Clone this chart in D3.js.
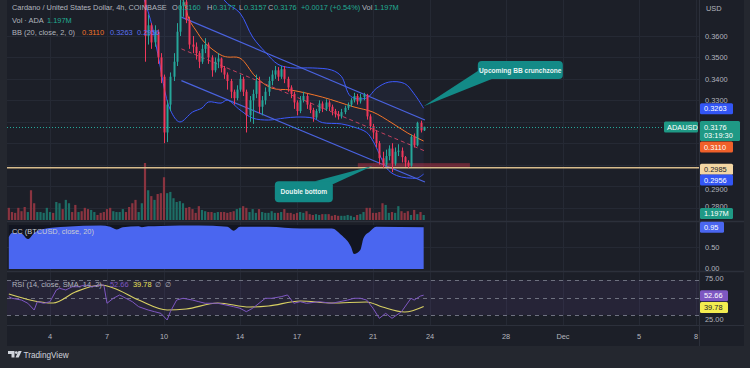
<!DOCTYPE html>
<html>
<head>
<meta charset="utf-8">
<script src="https://cdn.jsdelivr.net/npm/d3@7"></script>
<style>
  html, body { margin: 0; padding: 0; background: #24272f; }
  svg { display: block; font-family: "Liberation Sans", Arial, sans-serif; }
</style>
</head>
<body>
<svg id="chart" width="750" height="368"></svg>
<script>
// ADA/USD 4h (Coinbase), bars from 2022-11-01 20:00 UTC, open = previous close
const firstOpen = 0.4100;
const closes = [
  .4080,.4050,.4030,.4000,.3990,.3960,.3990,.3930,.3900,.3930,
  .3960,.3980,.4010,.4030,.4010,.4080,.4140,.4100,.4190,.4230,
  .4200,.4150,.4170,.4140,.4100,.4080,.4100,.4120,.4110,.4090,
  .4060,.4010,.3960,.3980,.4000,.4010,.4030,.4000,.3960,.3920,
  .3870,.3890,.3920,.3600,.3650,.3570,.3620,.3500,.3410,.3150,
  .3280,.3410,.3480,.3620,.3740,.3760,.3675,.3560,.3550,.3520,
  .3480,.3540,.3560,.3500,.3440,.3480,.3495,.3450,.3420,.3390,
  .3340,.3310,.3350,.3400,.3340,.3230,.3300,.3330,.3390,.3270,
  .3300,.3340,.3390,.3420,.3440,.3410,.3445,.3400,.3360,.3330,
  .3290,.3250,.3300,.3320,.3280,.3255,.3220,.3250,.3285,.3260,
  .3290,.3270,.3250,.3235,.3225,.3245,.3265,.3280,.3300,.3320,
  .3295,.3315,.3325,.3225,.3180,.3150,.3100,.3030,.3000,.3040,
  .3075,.3005,.3060,.3065,.3035,.3010,.2995,.3130,.3090,.3195,
  .3160,.3176
];
const highs = [
  .4130,.4100,.4080,.4060,.4040,.4020,.4020,.4030,.3950,.3960,
  .3990,.4010,.4040,.4060,.4060,.4110,.4180,.4170,.4230,.4270,
  .4260,.4230,.4200,.4190,.4160,.4130,.4130,.4150,.4150,.4140,
  .4120,.4090,.4030,.4010,.4030,.4040,.4060,.4050,.4020,.3980,
  .3940,.3920,.3950,.3950,.3700,.3660,.3650,.3630,.3520,.3420,
  .3300,.3430,.3520,.3660,.3800,.3830,.3780,.3690,.3600,.3570,
  .3530,.3560,.3590,.3570,.3510,.3500,.3520,.3500,.3460,.3430,
  .3400,.3350,.3370,.3420,.3410,.3350,.3320,.3350,.3420,.3410,
  .3320,.3360,.3410,.3440,.3460,.3455,.3460,.3460,.3410,.3370,
  .3340,.3300,.3320,.3340,.3330,.3290,.3265,.3260,.3300,.3295,
  .3305,.3300,.3280,.3260,.3250,.3260,.3275,.3290,.3310,.3335,
  .3330,.3330,.3335,.3330,.3235,.3190,.3160,.3110,.3060,.3070,
  .3090,.3100,.3080,.3095,.3080,.3040,.3020,.3140,.3145,.3200,
  .3205,.3177
];
const lows = [
  .4050,.4020,.4000,.3970,.3960,.3930,.3930,.3890,.3860,.3870,
  .3900,.3940,.3960,.3990,.3980,.3990,.4050,.4070,.4080,.4160,
  .4170,.4110,.4120,.4110,.4070,.4050,.4050,.4070,.4080,.4060,
  .4030,.3980,.3920,.3930,.3950,.3970,.3990,.3970,.3930,.3880,
  .3830,.3840,.3860,.3480,.3560,.3540,.3550,.3470,.3380,.3100,
  .3105,.3250,.3390,.3460,.3600,.3690,.3660,.3540,.3520,.3490,
  .3450,.3470,.3520,.3470,.3410,.3430,.3450,.3430,.3400,.3350,
  .3310,.3280,.3300,.3340,.3320,.3150,.3200,.3190,.3310,.3240,
  .3230,.3280,.3320,.3370,.3400,.3390,.3400,.3380,.3340,.3310,
  .3260,.3230,.3240,.3290,.3260,.3240,.3200,.3210,.3240,.3245,
  .3250,.3250,.3230,.3220,.3210,.3215,.3235,.3255,.3270,.3290,
  .3280,.3285,.3300,.3210,.3160,.3120,.3080,.3000,.2985,.2990,
  .3020,.2965,.2995,.3040,.3010,.2990,.2985,.2990,.3080,.3085,
  .3150,.3157
];
// volume, millions of ADA
const volumes = [
  2.9,1.9,1.7,2.9,2.1,3.1,1.9,7.1,4.0,1.9,
  1.9,1.7,2.9,1.9,1.7,4.3,4.0,2.6,4.8,4.0,
  1.9,3.6,1.9,2.1,2.9,2.6,2.4,1.9,1.2,1.7,
  1.9,2.6,2.9,2.1,1.9,1.9,2.6,1.9,3.1,4.0,
  4.8,1.9,4.0,13.6,7.1,5.7,4.8,6.2,6.4,10.2,
  6.4,6.7,5.2,4.3,4.5,4.0,2.9,3.1,2.6,1.7,
  3.3,2.4,2.1,1.9,1.9,1.7,1.9,1.9,1.9,1.7,
  1.9,2.1,2.6,2.9,3.3,2.9,1.9,2.6,1.7,2.6,
  1.9,1.7,1.7,2.1,1.7,1.7,1.9,2.6,1.7,1.7,
  1.4,1.7,1.9,1.7,2.1,1.4,1.2,1.4,1.2,1.4,
  1.4,1.4,1.0,1.2,1.0,1.0,1.0,1.2,1.0,0.7,
  1.2,1.4,1.9,2.9,2.9,1.7,1.7,1.9,4.0,3.6,
  1.7,1.9,1.7,3.3,2.1,1.7,2.1,1.2,2.4,1.4,
  1.9,1.197
];

// Bollinger Bands (20, 2) at bar indices
const bbUpperIdx = [30,40,48,56,62,66,68,73,77,81,85,89,96,102,105,108,113,116,120,125,128,131];
const bbUpper = [0.418,0.415,0.420,0.418,0.405,0.388,0.3768,0.3707,0.3595,0.3525,0.3468,0.3452,0.3451,0.3441,0.3412,0.3318,0.3311,0.3355,0.3385,0.3378,0.3330,0.3263];
const bbMidIdx = [40,48,52,55,57,59,62,67,69,73,78,83,89,99,109,115,121,126,131];
const bbMid = [0.405,0.395,0.383,0.3768,0.3675,0.3628,0.3567,0.3511,0.3502,0.3497,0.3409,0.3357,0.3348,0.3315,0.3269,0.3245,0.3194,0.3147,0.3110];
const bbLowerIdx = [30,40,42,45,47,51,54,58,61,63,67,69,73,77,82,87,91,96,99,105,109,113,115,117,119,121,124,127,129,131];
const bbLower = [0.385,0.386,0.380,0.366,0.352,0.3255,0.3199,0.3245,0.3264,0.3292,0.3287,0.3301,0.3255,0.3217,0.3208,0.3217,0.3222,0.3217,0.3196,0.3190,0.3175,0.3150,0.3110,0.3050,0.2990,0.2960,0.2942,0.2937,0.2937,0.2956];

// Correlation coefficient vs BTCUSD
const ccIdx = [0,1,4,6,8,11,18,29,32,34,36,41,42,44,48,60,69,71,73,82,92,102,105,108,109,111,112,114,116,131];
const ccVal = [0.73,0.82,0.80,0.68,0.82,0.91,0.96,0.99,0.96,0.90,0.95,0.97,0.95,0.97,0.98,0.99,0.96,0.87,0.96,0.96,0.92,0.92,0.77,0.51,0.34,0.43,0.70,0.85,0.96,0.95];

// RSI 14 and its SMA 14
const rsiIdx = [0,1,4,6,8,9,11,13,15,16,18,20,22,24,26,29,30,31,33,35,36,38,39,41,44,46,48,50,51,53,55,58,60,62,66,71,73,75,77,79,81,83,86,88,90,92,94,98,102,107,109,111,113,115,117,119,121,124,127,128,130,131];
const rsiVal = [50.9,49.1,47.1,43.4,35.7,45.2,43.4,45.2,58.6,60.5,58.6,62.3,62.3,64.3,62.3,64.3,64.3,43.4,49.1,52.9,50.9,47.1,45.2,39.5,35.7,33.8,31.9,24.3,33.8,47.1,49.1,47.1,45.2,43.4,43.4,39.5,37.7,33.8,37.7,43.4,49.1,49.1,50.9,52.9,43.4,45.2,43.4,45.2,43.4,47.1,49.1,49.1,47.1,37.7,26.2,31.9,26.2,33.8,49.1,47.1,51.7,52.66];
const smaIdx = [0,14,21,29,33,41,50,56,66,76,82,92,102,113,118,125,131];
const smaVal = [54.0,43.7,56.3,64.3,60.9,47.1,35.7,36.9,43.7,39.1,40.3,46.0,43.7,44.9,39.1,33.4,39.78];

// drawings
const channelIdx = [54.5, 131.4];
const channelUpper = [0.3688, 0.3208];
const channelLower = [0.3392, 0.2919];
const supportLevel = 0.2985;
const zoneIdx = [110.2, 145.6];
const zonePrice = [0.2989, 0.3007];

const priceTicks = [0.36, 0.35, 0.34, 0.33, 0.32, 0.31, 0.30, 0.29, 0.28];
const priceLabels = [0.36, 0.35, 0.34, 0.33, 0.29, 0.28];
const dateTicks = [[2022,10,4],[2022,10,7],[2022,10,10],[2022,10,14],[2022,10,17],[2022,10,21],[2022,10,24],[2022,10,28],[2022,11,1],[2022,11,5],[2022,11,8]];

//------------------------------------------------------------------------------
const svg = d3.select('#chart');
const DAY = 864e5, H4 = 4 * 36e5;
const t0 = Date.UTC(2022, 10, 1, 20);
const tAt = i => new Date(t0 + i * H4);

const bg = '#1c1f28', gridC = '#252934', txt = '#b2b5be';
const upC = '#26a69a', downC = '#f0385b';
const blueC = '#3d5afe', orangeC = '#f57428';

const nov4 = Date.UTC(2022, 10, 4);
const x = d3.scaleUtc()
    .domain([new Date(nov4 - 43 / 19 * DAY), new Date(nov4 + 649 / 19 * DAY)])
    .range([7, 699]);
const xi = i => x(tAt(i));

const y = d3.scaleLinear().domain([0.28, 0.36]).range([207.5, 36]);
const yVol = d3.scaleLinear().domain([0, 13.6]).range([220, 163]);
const yCC = d3.scaleLinear().domain([0, 1]).range([269, 225]);
const yRsi = d3.scaleLinear().domain([30, 70]).range([315, 280]);

const bars = closes.map((c, i) => ({
    i, t: tAt(i), o: i === 0 ? firstOpen : closes[i - 1],
    h: highs[i], l: lows[i], c, v: volumes[i]
}));

// backgrounds
svg.append('rect').attr('width', 750).attr('height', 368).attr('fill', '#24272f');
svg.append('rect').attr('x', 7).attr('y', 0).attr('width', 737).attr('height', 346).attr('fill', bg);

const defs = svg.append('defs');
const clip = (id, x0, y0, w, h) => defs.append('clipPath').attr('id', id)
    .append('rect').attr('x', x0).attr('y', y0).attr('width', w).attr('height', h);
clip('cMain', 7, 0, 692, 221);
clip('cCC', 7, 222, 692, 49);
clip('cRsi', 7, 272, 692, 53);
clip('cAxis', 7, 325, 692, 22);
clip('cRsiAxis', 700, 272, 50, 53);

// grid
const dates = dateTicks.map(d => new Date(Date.UTC(d[0], d[1], d[2])));
const grid = svg.append('g').attr('stroke', gridC).attr('stroke-width', 1);
dates.forEach(d => {
    const gx = Math.round(x(d)) + 0.5;
    if (gx < 699) grid.append('line').attr('x1', gx).attr('x2', gx).attr('y1', 0).attr('y2', 325);
});
priceTicks.forEach(p => {
    const gy = Math.round(y(p)) + 0.5;
    grid.append('line').attr('x1', 7).attr('x2', 699).attr('y1', gy).attr('y2', gy);
});
[0.5].forEach(v => grid.append('line').attr('x1', 7).attr('x2', 699)
    .attr('y1', Math.round(yCC(v)) + 0.5).attr('y2', Math.round(yCC(v)) + 0.5));

//------------------------------------------------------------------------------
// main pane
const gMain = svg.append('g').attr('clip-path', 'url(#cMain)');

gMain.selectAll('rect.vol').data(bars).join('rect')
    .attr('class', 'vol')
    .attr('x', d => xi(d.i) - 1.1)
    .attr('width', 2.2)
    .attr('y', d => yVol(d.v))
    .attr('height', d => 220 - yVol(d.v))
    .attr('fill', d => d.c >= d.o ? '#1d6e66' : '#8a3440');

const curve = d3.curveCatmullRom.alpha(0.5);
const pts = (idx, val) => idx.map((k, j) => [xi(k), y(val[j])]);
const line = d3.line().curve(curve);
const upPts = pts(bbUpperIdx, bbUpper), loPts = pts(bbLowerIdx, bbLower);
const fillPath = line(upPts) + 'L' + line(loPts.slice().reverse()).slice(1) + 'Z';
gMain.append('path').attr('d', fillPath).attr('fill', 'rgba(80,110,200,0.07)');
gMain.append('path').attr('d', line(upPts)).attr('fill', 'none').attr('stroke', blueC).attr('stroke-width', 1);
gMain.append('path').attr('d', line(loPts)).attr('fill', 'none').attr('stroke', blueC).attr('stroke-width', 1);
gMain.append('path').attr('d', line(pts(bbMidIdx, bbMid))).attr('fill', 'none').attr('stroke', orangeC).attr('stroke-width', 1);

// parallel channel
const chX = channelIdx.map(xi);
gMain.append('line').attr('x1', chX[0]).attr('x2', chX[1])
    .attr('y1', y(channelUpper[0])).attr('y2', y(channelUpper[1]))
    .attr('stroke', '#4a63e0').attr('stroke-width', 1.2);
gMain.append('line').attr('x1', chX[0]).attr('x2', chX[1])
    .attr('y1', y(channelLower[0])).attr('y2', y(channelLower[1]))
    .attr('stroke', '#4a63e0').attr('stroke-width', 1.2);
gMain.append('line').attr('x1', chX[0]).attr('x2', chX[1])
    .attr('y1', y((channelUpper[0] + channelLower[0]) / 2))
    .attr('y2', y((channelUpper[1] + channelLower[1]) / 2))
    .attr('stroke', '#c2405e').attr('stroke-width', 1).attr('stroke-dasharray', '4,3');

// support zone + level
gMain.append('rect')
    .attr('x', xi(zoneIdx[0])).attr('width', xi(zoneIdx[1]) - xi(zoneIdx[0]))
    .attr('y', y(zonePrice[1])).attr('height', y(zonePrice[0]) - y(zonePrice[1]))
    .attr('fill', 'rgba(200,50,70,0.45)');
gMain.append('line').attr('x1', 7).attr('x2', 699)
    .attr('y1', y(supportLevel)).attr('y2', y(supportLevel))
    .attr('stroke', '#d8bc8c').attr('stroke-width', 1.5);

// candles
const cg = gMain.selectAll('g.candle').data(bars).join('g').attr('class', 'candle');
cg.append('line')
    .attr('x1', d => Math.round(xi(d.i)) + 0.5).attr('x2', d => Math.round(xi(d.i)) + 0.5)
    .attr('y1', d => y(d.h)).attr('y2', d => y(d.l))
    .attr('stroke', d => d.c >= d.o ? upC : downC);
cg.append('rect')
    .attr('x', d => Math.round(xi(d.i)) - 0.5).attr('width', 2)
    .attr('y', d => y(Math.max(d.o, d.c)))
    .attr('height', d => Math.max(1, Math.abs(y(d.o) - y(d.c))))
    .attr('fill', d => d.c >= d.o ? upC : downC);

// last price dotted line
const last = bars[bars.length - 1];
gMain.append('line').attr('x1', 7).attr('x2', 699)
    .attr('y1', Math.round(y(last.c)) + 0.5).attr('y2', Math.round(y(last.c)) + 0.5)
    .attr('stroke', upC).attr('stroke-width', 1).attr('stroke-dasharray', '1,2');

// callouts
const callout = (g, bx, by, w, h, base, tip, label) => {
    g.append('path')
        .attr('d', `M${bx + base[0][0]},${by + base[0][1]}L${tip[0]},${tip[1]}L${bx + base[1][0]},${by + base[1][1]}Z`)
        .attr('fill', '#138a87');
    g.append('rect').attr('x', bx).attr('y', by).attr('width', w).attr('height', h)
        .attr('rx', 4).attr('fill', '#138a87');
    g.append('text').attr('x', bx + w / 2).attr('y', by + h / 2 + 2.5)
        .attr('text-anchor', 'middle').attr('font-size', 6.6).attr('font-weight', 'bold')
        .attr('fill', '#e8f4f3').text(label);
};
callout(svg.append('g'), xi(148.1), y(0.3483), 85, 18, [[0, 10], [14, 18]],
    [xi(131), y(0.3272)], 'Upcoming BB crunchzone');
callout(svg.append('g'), xi(84), y(0.2923), 58, 21, [[40, 0], [58, 3]],
    [xi(115), y(0.2995)], 'Double bottom');

//------------------------------------------------------------------------------
// CC pane
const gCC = svg.append('g').attr('clip-path', 'url(#cCC)');
const ccPts = ccIdx.map((k, j) => [xi(k), ccVal[j]]);
gCC.append('path')
    .attr('d', d3.area().curve(d3.curveMonotoneX).x(d => d[0]).y0(yCC(1)).y1(d => yCC(d[1]))(ccPts))
    .attr('fill', '#121520');
gCC.append('path')
    .attr('d', d3.area().curve(d3.curveMonotoneX).x(d => d[0]).y0(yCC(0)).y1(d => yCC(d[1]))(ccPts))
    .attr('fill', '#4a66f0');

// RSI pane
const gR = svg.append('g').attr('clip-path', 'url(#cRsi)');
gR.append('rect').attr('x', 7).attr('width', 692).attr('y', yRsi(70)).attr('height', yRsi(30) - yRsi(70))
    .attr('fill', 'rgba(126,87,194,0.10)');
[70, 50, 30].forEach(v => gR.append('line').attr('x1', 7).attr('x2', 699)
    .attr('y1', Math.round(yRsi(v)) + 0.5).attr('y2', Math.round(yRsi(v)) + 0.5)
    .attr('stroke', '#6e7180').attr('stroke-dasharray', '4,4'));
gR.append('path')
    .attr('d', d3.line().x((k) => xi(k)).y((k, j) => yRsi(smaVal[j])).curve(d3.curveMonotoneX)(smaIdx))
    .attr('fill', 'none').attr('stroke', '#d8d063').attr('stroke-width', 1.1);
gR.append('path')
    .attr('d', d3.line().x((k) => xi(k)).y((k, j) => yRsi(rsiVal[j]))(rsiIdx))
    .attr('fill', 'none').attr('stroke', '#7e57c2').attr('stroke-width', 1);

// pane separators
const sep = svg.append('g').attr('stroke', '#2c303b').attr('stroke-width', 1.5);
[221.5, 271.5].forEach(v => sep.append('line').attr('x1', 7).attr('x2', 744).attr('y1', v).attr('y2', v));
svg.append('line').attr('x1', 7).attr('x2', 744).attr('y1', 325.5).attr('y2', 325.5)
    .attr('stroke', '#2c303b');
svg.append('line').attr('x1', 699.5).attr('x2', 699.5).attr('y1', 0).attr('y2', 346)
    .attr('stroke', '#2c303b');

//------------------------------------------------------------------------------
// text sizing: fit the title width and reuse that size
const FS = (() => {
    const probe = svg.append('text').attr('font-size', 10).text('Cardano / United States Dollar, 4h, COINBASE');
    const w = probe.node().getComputedTextLength();
    probe.remove();
    return 10 * 155 / w;
})();

const put = (xx, yy, s, c, g) => (g || svg).append('text').attr('x', xx).attr('y', yy)
    .attr('font-size', FS).attr('fill', c).text(s);

// price axis
priceLabels.forEach(p => put(705, y(p) + (p === 0.29 ? 6 : p === 0.28 ? 1 : 2.7), d3.format('.4f')(p), txt));
put(706, 11, 'USD', txt);
put(705, yCC(0.5) + 2.7, '0.50', txt);
put(705, yCC(0) + 1.5, '0.00', txt);
put(705, yRsi(75) + 5.5, '75.00', txt, svg.append('g').attr('clip-path', 'url(#cRsiAxis)'));
put(705, yRsi(25) + 2.7, '25.00', txt);

const tag = (yc, s, fill, color, w) => {
    svg.append('rect').attr('x', 700).attr('y', yc - 5.5).attr('width', w || 33).attr('height', 11)
        .attr('rx', 1.5).attr('fill', fill);
    put(704, yc + 2.7, s, color);
};
tag(y(0.3263) + 0.5, '0.3263', '#3356f5', '#fff');
tag(147, '0.3110', '#f0602a', '#fff');
tag(169.2, '0.2985', '#f3d6a3', '#1c1f28');
tag(180, '0.2956', '#3356f5', '#fff');
tag(yVol(last.v) - 1.5, '1.197M', '#1f9985', '#fff');
tag(yCC(0.95), '0.95', '#4a66f0', '#fff', 24);
tag(yRsi(52.66) + 0.5, '52.66', '#7e57c2', '#fff', 28);
tag(yRsi(39.78) + 1, '39.78', '#f3ec50', '#1c1f28', 28);

// last price tag with countdown
const ly = y(last.c);
svg.append('rect').attr('x', 700).attr('y', ly - 6).attr('width', 40).attr('height', 20).attr('rx', 1.5).attr('fill', '#1f9985');
put(704, ly + 2.7, '0.3176', '#fff');
put(704, ly + 11.2, '03:19:30', '#fff');
svg.append('rect').attr('x', 664).attr('y', ly - 5.5).attr('width', 34).attr('height', 11).attr('rx', 1.5).attr('fill', '#1f9985');
put(667, ly + 2.7, 'ADAUSD', '#fff');

// time axis
const gx = svg.append('g').attr('clip-path', 'url(#cAxis)');
dates.forEach(d => gx.append('text').attr('x', x(d)).attr('y', 339).attr('text-anchor', 'middle')
    .attr('font-size', FS).attr('fill', txt)
    .text(d.getUTCDate() === 1 ? d3.utcFormat('%b')(d) : d.getUTCDate()));

// legends
const green = '#22ab94', blueL = '#5b72f2', purple = '#7e57c2', yellow = '#e8e05a';
[
    [12, 9.8, 'Cardano / United States Dollar, 4h, COINBASE', txt],
    [172, 9.8, 'O', txt], [178, 9.8, '0.3160', green],
    [207, 9.8, 'H', txt], [213, 9.8, '0.3177', green],
    [239, 9.8, 'L', txt], [244, 9.8, '0.3157', green],
    [268, 9.8, 'C', txt], [274, 9.8, '0.3176', green],
    [301, 9.8, '+0.0017 (+0.54%)', green],
    [362, 9.8, 'Vol', txt], [374, 9.8, '1.197M', green],
    [12, 22.5, 'Vol · ADA', txt], [47, 22.5, '1.197M', green],
    [12, 35, 'BB (20, close, 2, 0)', txt], [82, 35, '0.3110', orangeC],
    [110, 35, '0.3263', blueL], [137, 35, '0.2956', blueL],
    [12, 233.5, 'CC (BTCUSD, close, 20)', '#c9cbd3'],
    [12, 287, 'RSI (14, close, SMA, 14, 2)', txt], [110, 287, '52.66', purple],
    [133, 287, '39.78', yellow], [155, 287, '∅', txt], [165, 287, '∅', txt]
].forEach(([xx, yy, s, c]) => put(xx, yy, s, c));

// footer logo
const logo = svg.append('g').attr('fill', '#d1d4dc');
logo.append('path').attr('d', 'M8,351h6.5v6.5h-3v-3.5h-3.5z');
logo.append('circle').attr('cx', 16.3).attr('cy', 352.6).attr('r', 1.4);
logo.append('path').attr('d', 'M18.5,351h3.2l-3,6.5h-3.2z');
svg.append('text').attr('x', 23.5).attr('y', 357.5).attr('font-size', FS + 0.8)
    .attr('fill', '#d1d4dc').text('TradingView');
</script>
</body>
</html>
